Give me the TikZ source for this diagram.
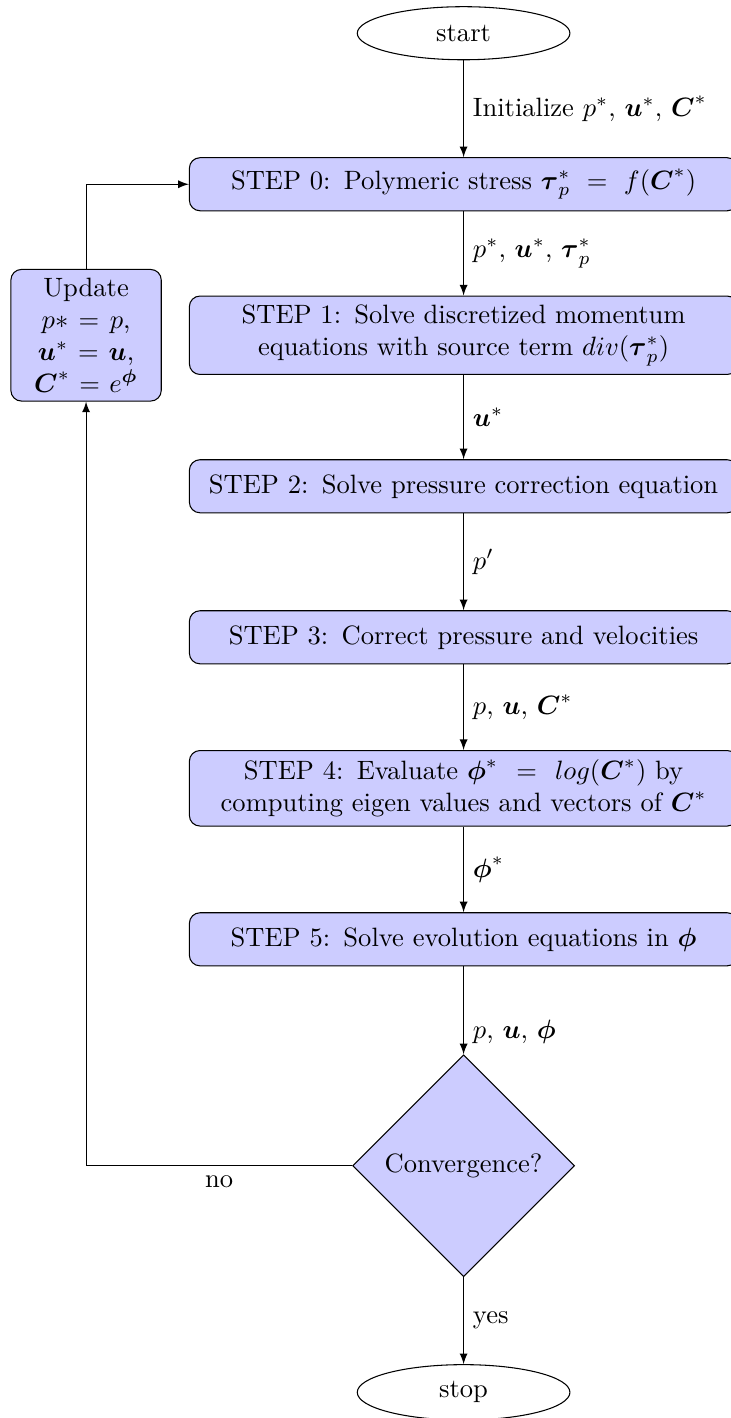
\documentclass[tikz,border=0pt]{standalone}
\usepackage{amsmath}
\usetikzlibrary{shapes.geometric, arrows, positioning}

\begin{document}
\begin{tikzpicture}[>=latex, node distance=2cm, on grid]
  % Node Styles
  \tikzstyle{stepbox} = [rectangle, draw, fill=blue!20, text width=20em, align=center,
    rounded corners, minimum height=2em]
  \tikzstyle{updatebox} = [stepbox, text width=5em]
  \tikzstyle{decision} = [diamond, draw, fill=blue!20, minimum width=2.94cm,
    minimum height=2.94cm, inner sep=0pt, align=center]
  \tikzstyle{terminal} = [draw, ellipse, text width=5em, align=center, minimum height=2em]
  \tikzstyle{flow} = [draw, ->]

  \useasboundingbox (-6.14,0.44) rectangle (3.53,-18.34);

  % Main column
  \node[terminal] (start) at (0, 0) {start};
  \node[stepbox, below=of start] (step0)
    {STEP 0: Polymeric stress $\boldsymbol{\tau}_p^*\,=\,f(\boldsymbol{C}^*)$};
  \node[stepbox, below=of step0] (step1)
    {STEP 1: Solve discretized momentum equations with source term $div(\boldsymbol{\tau}_p^*)$};
  \node[stepbox, below=of step1] (step2)
    {STEP 2: Solve pressure correction equation};
  \node[stepbox, below=of step2] (step3)
    {STEP 3: Correct pressure and velocities};
  \node[stepbox, below=of step3] (step4)
    {STEP 4: Evaluate $\boldsymbol{\phi}^*\,=\,log(\boldsymbol{C}^*)$ by computing eigen values and vectors of $\boldsymbol{C}^*$};
  \node[stepbox, below=of step4] (step5)
    {STEP 5: Solve evolution equations in $\boldsymbol{\phi}$};
  \node[decision, below=3cm of step5] (conv) {Convergence?};
  \node[terminal, below=3cm of conv] (stop) {stop};

  % Update box on the loop
  \node[updatebox, left=5cm of step1] (update)
    {Update\\ $p* = p$,\\ $\boldsymbol{u}^* = \boldsymbol{u}$,\\ $\boldsymbol{C}^* = e^{\boldsymbol{\phi}}$};

  % Connectors
  \path[flow] (start) -- node[right] {Initialize $p^*$, $\boldsymbol{u}^*$, $\boldsymbol{C}^*$} (step0);
  \path[flow] (step0) -- node[right] {$p^*$, $\boldsymbol{u}^*$, $\boldsymbol{\tau}_p^*$} (step1);
  \path[flow] (step1) -- node[right] {$\boldsymbol{u}^*$} (step2);
  \path[flow] (step2) -- node[right] {$p'$} (step3);
  \path[flow] (step3) -- node[right] {$p$, $\boldsymbol{u}$, $\boldsymbol{C}^*$} (step4);
  \path[flow] (step4) -- node[right] {$\boldsymbol{\phi}^*$} (step5);
  \path[flow] (step5) -- node[right, near end] {$p$, $\boldsymbol{u}$, $\boldsymbol{\phi}$} (conv);
  \path[flow] (conv) -| node[near start, below] {no} (update);
  \path[flow] (update) |- (step0);
  \path[flow] (conv) -- node[right] {yes} (stop);
\end{tikzpicture}
\end{document}
